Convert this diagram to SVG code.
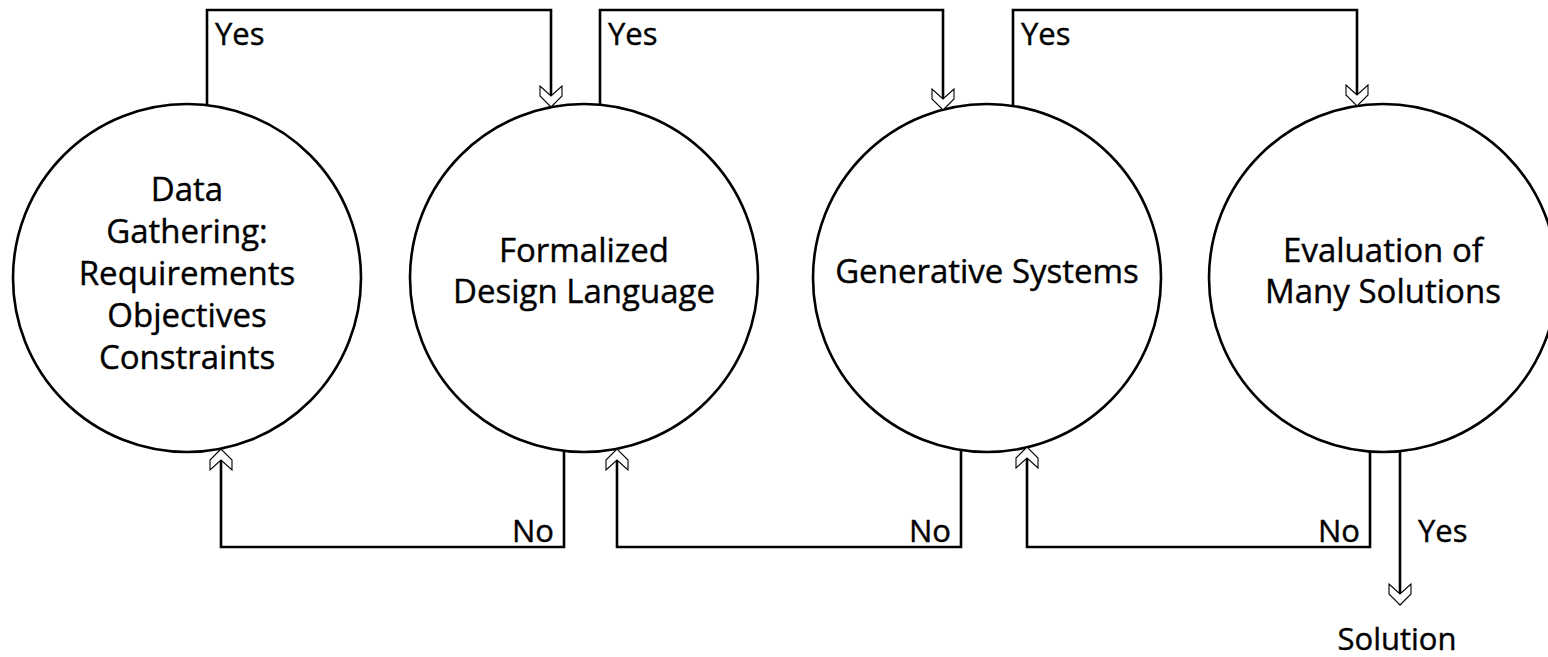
<svg xmlns="http://www.w3.org/2000/svg" width="1548" height="657" viewBox="0 0 1548 657">
<style>
  .node circle { fill: #fff; stroke: #000; stroke-width: 2.6; }
  .ntext { font-family: "Open Sans", "Liberation Sans", sans-serif; font-size: 33px; fill: #000; stroke: #000; stroke-width: 0.4; text-anchor: middle; }
  .conn path { fill: none; stroke: #000; stroke-width: 2.6; marker-end: url(#chev); }
  .lbl { font-family: "Open Sans", "Liberation Sans", sans-serif; font-size: 31px; fill: #000; stroke: #000; stroke-width: 0.4; }
  .end { text-anchor: end; }
</style>
<defs>
  <marker id="chev" viewBox="-22 -12 23 24" markerWidth="23" markerHeight="24" refX="0" refY="0" orient="auto" markerUnits="userSpaceOnUse">
    <polygon points="0,0 -11,-11 -21,-11 -11,0 -21,11 -11,11" fill="#fff" stroke="#000" stroke-width="1.1" stroke-linejoin="miter"/>
  </marker>
</defs>
<rect width="1548" height="657" fill="#fff"/>

<g id="node-data-gathering" class="node">
  <circle cx="187" cy="278" r="174"/>
  <text class="ntext" x="187" y="201">Data</text>
  <text class="ntext" x="187" y="243">Gathering:</text>
  <text class="ntext" x="187" y="285">Requirements</text>
  <text class="ntext" x="187" y="327">Objectives</text>
  <text class="ntext" x="187" y="369">Constraints</text>
</g>
<g id="node-formalized" class="node">
  <circle cx="584" cy="278" r="174"/>
  <text class="ntext" x="584" y="262">Formalized</text>
  <text class="ntext" x="584" y="303">Design Language</text>
</g>
<g id="node-generative" class="node">
  <circle cx="987" cy="278" r="174"/>
  <text class="ntext" x="987" y="283">Generative Systems</text>
</g>
<g id="node-evaluation" class="node">
  <circle cx="1383" cy="278" r="174"/>
  <text class="ntext" x="1383" y="262">Evaluation of</text>
  <text class="ntext" x="1383" y="303">Many Solutions</text>
</g>
<g id="node-solution">
  <text class="lbl" x="1397" y="650" text-anchor="middle">Solution</text>
</g>

<g id="connectors" class="conn">
  <path d="M207,105 V10 H551 V107"/>
  <path d="M600,105 V10 H943 V110"/>
  <path d="M1013,106 V10 H1357 V106"/>
  <path d="M564,451 V547 H221 V449"/>
  <path d="M961,450 V547 H617 V449"/>
  <path d="M1370,451 V547 H1027 V447"/>
  <path d="M1400,451 V605"/>
</g>
<g id="connector-labels">
  <text class="lbl" x="215" y="45">Yes</text>
  <text class="lbl" x="608" y="45">Yes</text>
  <text class="lbl" x="1021" y="45">Yes</text>
  <text class="lbl end" x="554" y="542">No</text>
  <text class="lbl end" x="951" y="542">No</text>
  <text class="lbl end" x="1360" y="542">No</text>
  <text class="lbl" x="1418" y="542">Yes</text>
</g>
</svg>
